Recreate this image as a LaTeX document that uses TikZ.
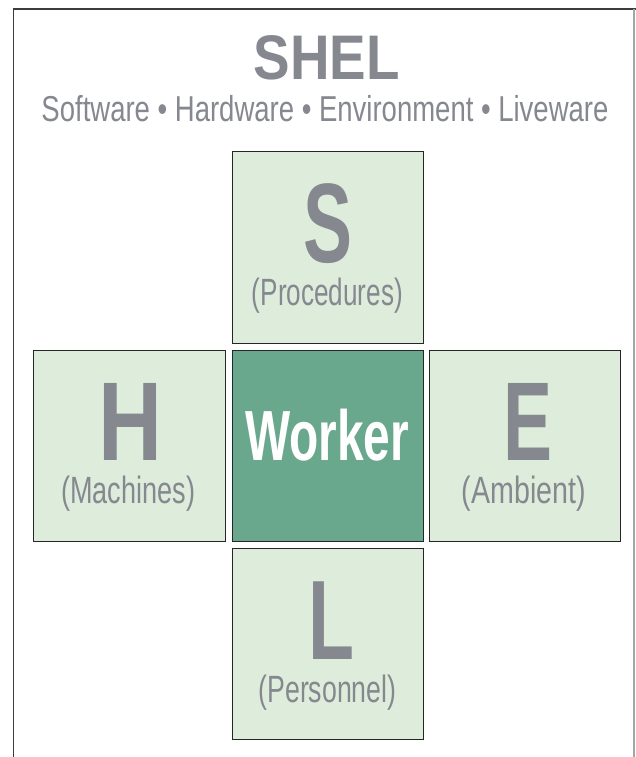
\documentclass[tikz,border=0pt]{standalone}
\usepackage{fontspec}
\setmainfont{Liberation Sans}
\definecolor{tgrey}{RGB}{134,136,144}
\definecolor{boxfill}{RGB}{222,237,219}
\definecolor{workerfill}{RGB}{106,168,142}
\definecolor{framedark}{RGB}{60,60,60}
\definecolor{framelight}{RGB}{165,165,165}
\newcommand{\fitw}[3]{\resizebox{#1}{\height}{\fontsize{#2}{#2}\selectfont #3}}
\begin{document}
\begin{tikzpicture}[x=1pt,y=-1pt,
  cell/.style={draw=black!85, line width=0.9pt, fill=boxfill, minimum width=191.5pt, minimum height=191.3pt, inner sep=0pt, outer sep=0pt},
  core/.style={cell, fill=workerfill},
  txt/.style={inner sep=0pt, outer sep=0pt, anchor=base, text=tgrey}]
\useasboundingbox (0,0) rectangle (636,757);
\fill[white] (0,0) rectangle (636,757);
% frame
\draw[framedark, line width=1.6pt] (13.5,757) -- (13.5,9) -- (636,9);
\draw[framelight, line width=1.6pt] (634,9) -- (634,757);
% title
\node[txt] (title) at (326.5,80) {\fitw{146pt}{63pt}{\bfseries SHEL}};
\node[txt] (subtitle) at (325,121.7) {\fitw{567pt}{36pt}{Software • Hardware • Environment • Liveware}};
% boxes
\node[cell] (S) at (327.85,247.5) {};
\node[core] (C) at (327.85,446) {};
\node[cell] (H) at (129.5,446) {};
\node[cell] (E) at (525.15,446) {};
\node[cell] (L) at (327.85,644.2) {};
% letters
\node[txt] (Sl) at (327.5,262.7) {\fitw{49pt}{113pt}{\bfseries S}};
\node[txt] (Hl) at (130,460.7) {\fitw{64pt}{112pt}{\bfseries H}};
\node[txt] (El) at (527.5,460.7) {\fitw{49pt}{112pt}{\bfseries E}};
\node[txt] (Ll) at (331,659.3) {\fitw{46pt}{113pt}{\bfseries L}};
\node[txt, text=white] (Cw) at (327,460.7) {\fitw{164pt}{71pt}{\bfseries Worker}};
% sub labels
\node[txt] (Sp) at (327.4,305) {\fitw{151pt}{38pt}{(Procedures)}};
\node[txt] (Hp) at (128.3,503.3) {\fitw{134pt}{38pt}{(Machines)}};
\node[txt] (Ep) at (523.7,503.3) {\fitw{124pt}{38pt}{(Ambient)}};
\node[txt] (Lp) at (327.5,702) {\fitw{138pt}{38pt}{(Personnel)}};
\end{tikzpicture}
\end{document}
